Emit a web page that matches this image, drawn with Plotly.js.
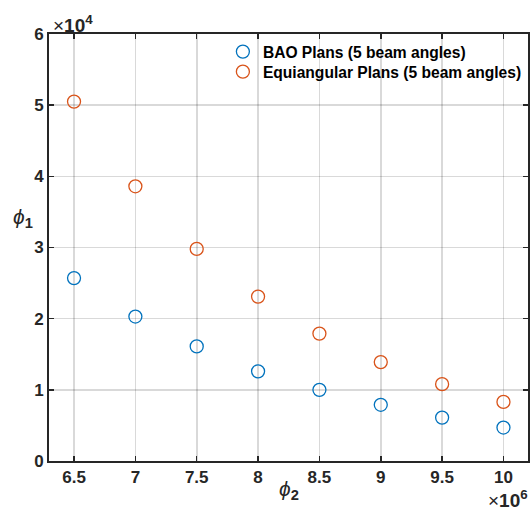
<!DOCTYPE html>
<html><head><meta charset="utf-8">
<script src="https://cdn.plot.ly/plotly-3.0.1.min.js"></script>
<style>body{margin:0;padding:0;background:#fff}#chart{width:530px;height:512px}</style>
</head><body><div id="chart"></div>
<script>
const phi2 = [6.5e6, 7e6, 7.5e6, 8e6, 8.5e6, 9e6, 9.5e6, 10e6];
const baoPhi1 = [2.57e4, 2.03e4, 1.61e4, 1.26e4, 1.00e4, 0.79e4, 0.61e4, 0.47e4];
const equiPhi1 = [5.05e4, 3.86e4, 2.98e4, 2.31e4, 1.79e4, 1.39e4, 1.08e4, 0.83e4];
const xTickVals = [6.5e6, 7e6, 7.5e6, 8e6, 8.5e6, 9e6, 9.5e6, 10e6];
const xTickText = ['6.5', '7', '7.5', '8', '8.5', '9', '9.5', '10'];
const yTickVals = [0, 1e4, 2e4, 3e4, 4e4, 5e4, 6e4];
const yTickText = ['0', '1', '2', '3', '4', '5', '6'];
const seriesNames = ['BAO Plans (5 beam angles)', 'Equiangular Plans (5 beam angles)'];

const F = 'Liberation Sans, Arial, Helvetica, sans-serif';
const axCol = '#262626';
const traces = [
  {x: phi2, y: baoPhi1, name: seriesNames[0], type: 'scatter', mode: 'markers', legend: 'legend',
   marker: {symbol: 'circle-open', size: 13, color: '#0072BD', line: {width: 1.3, color: '#0072BD'}}},
  {x: phi2, y: equiPhi1, name: seriesNames[1], type: 'scatter', mode: 'markers', legend: 'legend2',
   marker: {symbol: 'circle-open', size: 13, color: '#D95319', line: {width: 1.3, color: '#D95319'}}}
];
const axisCommon = {
  showline: true, linecolor: axCol, linewidth: 2, mirror: 'ticks',
  ticks: 'inside', ticklen: 5, tickwidth: 1.5, tickcolor: axCol,
  showgrid: true, gridcolor: 'rgba(0,0,0,0.15)', gridwidth: 1.6,
  zeroline: false, tickfont: {family: F, size: 17, color: axCol, weight: 'bold'}
};
const legFont = {family: F, size: 15.6, color: '#000', weight: 'bold'};
const layout = {
  width: 530, height: 512,
  margin: {l: 49, r: 2, t: 34, b: 51, autoexpand: false},
  paper_bgcolor: '#fff', plot_bgcolor: '#fff',
  font: {family: F, color: axCol},
  showlegend: true,
  legend: {x: 0.363, y: 0.9977, xanchor: 'left', yanchor: 'top', bgcolor: 'rgba(255,255,255,0)',
    font: legFont, itemwidth: 30},
  legend2: {x: 0.363, y: 0.9508, xanchor: 'left', yanchor: 'top', bgcolor: 'rgba(255,255,255,0)',
    font: legFont, itemwidth: 30},
  xaxis: Object.assign({}, axisCommon, {range: [6.296e6, 10.2e6], tickmode: 'array', tickvals: xTickVals, ticktext: xTickText}),
  yaxis: Object.assign({}, axisCommon, {range: [0, 6e4], tickmode: 'array', tickvals: yTickVals, ticktext: yTickText}),
  annotations: [
    {xref: 'paper', yref: 'paper', x: 0, y: 1, xanchor: 'left', yanchor: 'bottom', showarrow: false,
     text: '×<b>10</b><sup><b>4</b></sup>', font: {family: F, size: 19, color: axCol}, xshift: 2, yshift: -4},
    {xref: 'paper', yref: 'paper', x: 1, y: 0, xanchor: 'right', yanchor: 'top', showarrow: false,
     text: '×<b>10</b><sup><b>6</b></sup>', font: {family: F, size: 19, color: axCol}, yshift: -24, xshift: 2},
    {xref: 'paper', yref: 'paper', x: 0.5, y: 0, xanchor: 'center', yanchor: 'top', showarrow: false,
     text: '<i>ϕ</i><sub><b>2</b></sub>', font: {family: F, size: 21, color: axCol}, yshift: -14},
    {xref: 'paper', yref: 'paper', x: 0, y: 0.569, xanchor: 'right', yanchor: 'middle', showarrow: false,
     text: '<i>ϕ</i><sub><b>1</b></sub>', font: {family: F, size: 21, color: axCol}, xshift: -14}
  ]
};
Plotly.newPlot('chart', traces, layout, {displayModeBar: false, staticPlot: true});
</script></body></html>
